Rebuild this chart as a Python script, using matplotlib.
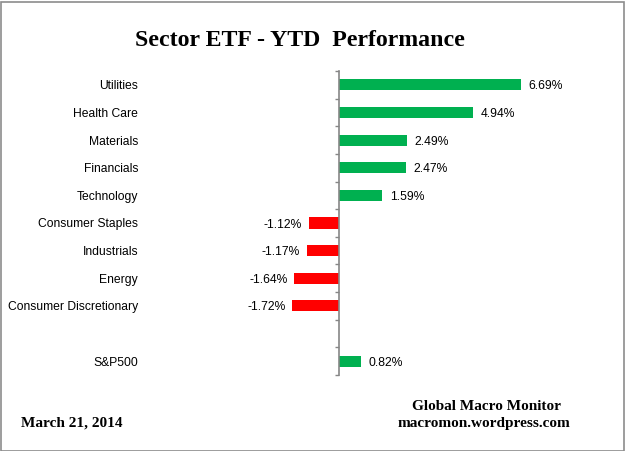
import matplotlib
matplotlib.use("Agg")
import matplotlib.pyplot as plt
from matplotlib.patches import Rectangle
import numpy as np

categories = ["Utilities", "Health Care", "Materials", "Financials", "Technology",
              "Consumer Staples", "Industrials", "Energy", "Consumer Discretionary",
              "", "S&P500"]
values = [6.69, 4.94, 2.49, 2.47, 1.59, -1.12, -1.17, -1.64, -1.72, None, 0.82]

title = "Sector ETF - YTD  Performance"
date_text = "March 21, 2014"
source_lines = ["Global Macro Monitor", "macromon.wordpress.com"]

GREEN = "#00B050"
RED = "#FF0000"
AXIS_GRAY = "#868686"

W, H = 625, 451
fig = plt.figure(figsize=(W / 100, H / 100), dpi=100)

# axes geometry in pixels
ax_left_px, ax_right_px = 145, 600
ax_top_px, ax_bot_px = 71, 375
zero_px = 339
px_per_unit = 27.2
ax = fig.add_axes([ax_left_px / W, (H - ax_bot_px) / H,
                   (ax_right_px - ax_left_px) / W, (ax_bot_px - ax_top_px) / H])
xmin = -(zero_px - ax_left_px) / px_per_unit
xmax = (ax_right_px - zero_px) / px_per_unit
ax.set_xlim(xmin, xmax)

n = len(categories)
ypos = np.arange(n)
ax.set_ylim(n - 0.5, -0.5)

label_font = dict(family=["Liberation Sans", "DejaVu Sans"], size=8.7)
for y, v in zip(ypos, values):
    if v is None:
        continue
    c = GREEN if v >= 0 else RED
    ax.barh(y, v, height=0.4, color=c, edgecolor="none")
    txt = f"{v:.2f}%"
    if v >= 0:
        ax.annotate(txt, (v, y), xytext=(5.5, 0), textcoords="offset points",
                    ha="left", va="center_baseline", **label_font)
    else:
        ax.annotate(txt, (v, y), xytext=(-5, 0), textcoords="offset points",
                    ha="right", va="center_baseline", **label_font)

for s in ["top", "right", "bottom"]:
    ax.spines[s].set_visible(False)
ax.spines["left"].set_position(("data", 0))
ax.spines["left"].set_color(AXIS_GRAY)
ax.spines["left"].set_linewidth(1.2)
ax.set_xticks([])

ax.set_yticks(ypos)
ax.set_yticklabels(categories, **label_font)
pad_pt = (zero_px - 138) * 0.72
ax.tick_params(axis="y", which="major", length=0, pad=pad_pt)
ax.set_yticks(np.arange(-0.5, n, 1.0), minor=True)
ax.tick_params(axis="y", which="minor", length=3, width=1, color=AXIS_GRAY, direction="out")

serif = ["Liberation Serif", "DejaVu Serif"]
fig.text(300 / W, 1 - 41 / H, title, ha="center", va="center",
         family=serif, weight="bold", size=17.2)
fig.text(21 / W, 1 - 423 / H, date_text, ha="left", va="center",
         family=serif, weight="bold", size=11)
fig.text(487 / W, 1 - 406 / H, source_lines[0], ha="center", va="center",
         family=serif, weight="bold", size=11)
fig.text(484 / W, 1 - 423 / H, source_lines[1], ha="center", va="center",
         family=serif, weight="bold", size=11)

fig.patches.append(Rectangle((0.5 / W, 0.5 / H), (W - 1.5) / W, (H - 2) / H,
                             transform=fig.transFigure, fill=False,
                             edgecolor="#8C8C8C", linewidth=1.2))

fig.savefig("out.png", dpi=100)
